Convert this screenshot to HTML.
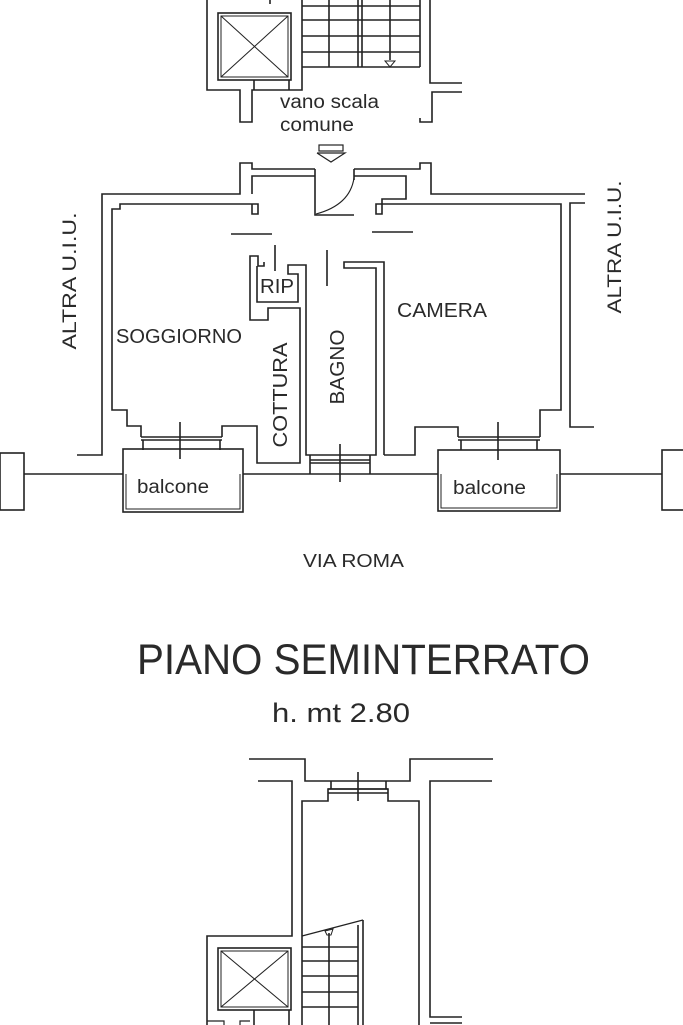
<!DOCTYPE html>
<html><head><meta charset="utf-8"><style>
html,body{margin:0;padding:0;background:#fff;}
svg{display:block;}
text{font-family:"Liberation Sans",Arial,sans-serif;fill:#2a2a2a;}
</style></head><body>
<svg width="683" height="1025" viewBox="0 0 683 1025" xmlns="http://www.w3.org/2000/svg">
<g fill="none" stroke="#222" stroke-width="1.6">
<polyline points="207,0 207,90 240,90 240,122 252,122 252,90 302,90 302,0"/>
<rect x="218" y="13" width="73" height="67"/>
<rect x="221" y="16" width="67" height="61" stroke-width="1"/>
<line x1="221" y1="16" x2="288" y2="77" stroke-width="1"/>
<line x1="288" y1="16" x2="221" y2="77" stroke-width="1"/>
<line x1="254" y1="80" x2="254" y2="90"/><line x1="289" y1="80" x2="289" y2="90"/>
<line x1="302" y1="6" x2="420" y2="6"/>
<line x1="302" y1="20" x2="420" y2="20"/>
<line x1="302" y1="36" x2="420" y2="36"/>
<line x1="302" y1="52" x2="420" y2="52"/>
<line x1="302" y1="67" x2="420" y2="67"/>
<line x1="329" y1="0" x2="329" y2="67"/>
<line x1="358" y1="0" x2="358" y2="67"/>
<line x1="362" y1="0" x2="362" y2="67"/>
<line x1="390" y1="0" x2="390" y2="60"/>
<polygon points="385,61 395,61 390,67" stroke-width="1"/>
<line x1="420" y1="0" x2="420" y2="67"/>
<line x1="270" y1="0" x2="270" y2="4"/>
<polyline points="430,0 430,83 462,83"/>
<polyline points="462,92 432,92 432,122 420,122 420,118"/>
<rect x="319" y="145" width="24" height="6" stroke-width="1.2"/>
<polyline points="317,153 345,153 331,162 317,153" stroke-width="1.2"/>
<polyline points="77,455 102,455 102,194 240,194 240,163 252,163 252,169 315,169"/>
<polyline points="354,169 420,169 420,163 431,163 431,194 585,194"/>
<polyline points="585,203 570,203 570,427 594,427"/>
<polyline points="315,169 315,215 354,215"/>
<line x1="354" y1="169" x2="354" y2="180"/>
<path d="M354,178 Q350,205 316,214" stroke-width="1.1"/>
<polyline points="252,194 252,176 315,176"/>
<polyline points="141,437 141,426 127,426 127,410 112,410 112,209 120,209 120,204 252,204 252,214 258,214 258,204 252,204"/>
<polyline points="354,176 406,176 406,199 382,199 382,214 376,214 376,204 561,204 561,410 540,410 540,437"/>
<line x1="231" y1="234" x2="272" y2="234"/>
<line x1="372" y1="232" x2="413" y2="232"/>
<line x1="141" y1="437" x2="222" y2="437"/><line x1="141" y1="440" x2="222" y2="440"/>
<line x1="143" y1="440" x2="143" y2="450"/><line x1="220" y1="440" x2="220" y2="450"/>
<line x1="180" y1="422" x2="180" y2="459"/>
<polyline points="222,437 222,426 257,426 257,463 300,463 300,308 268,308 268,320 250,320 250,256 258,256 258,266 264,266 264,262"/>
<polyline points="257,266 257,302 298,302 298,274 288,274 288,265 306,265 306,282"/>
<line x1="275" y1="245" x2="275" y2="271"/>
<polyline points="306,282 306,455 376,455 376,268 344,268 344,262 384,262 384,455"/>
<line x1="327" y1="250" x2="327" y2="286"/>
<line x1="310" y1="455" x2="310" y2="474"/><line x1="370" y1="455" x2="370" y2="474"/>
<line x1="310" y1="460" x2="370" y2="460"/><line x1="310" y1="463" x2="370" y2="463"/>
<line x1="340" y1="444" x2="340" y2="482"/>
<polyline points="384,455 415,455 415,427 458,427 458,437"/>
<line x1="458" y1="437" x2="540" y2="437"/><line x1="458" y1="440" x2="540" y2="440"/>
<line x1="461" y1="440" x2="461" y2="450"/><line x1="537" y1="440" x2="537" y2="450"/>
<line x1="498" y1="422" x2="498" y2="460"/>
<line x1="24" y1="474" x2="123" y2="474"/>
<line x1="243" y1="474" x2="438" y2="474"/>
<line x1="560" y1="474" x2="662" y2="474"/>
<rect x="0" y="453" width="24" height="57"/>
<rect x="662" y="450" width="25" height="60"/>
<rect x="123" y="449" width="120" height="63"/>
<polyline points="126,474 126,509 240,509 240,474" stroke-width="1"/>
<rect x="438" y="450" width="122" height="61"/>
<polyline points="441,474 441,508 557,508 557,474" stroke-width="1"/>
<polyline points="249,759 305,759 305,781 410,781 410,759 493,759"/>
<polyline points="258,781 292,781 292,936 207,936 207,1025"/>
<polyline points="302,1025 302,801 328,801 328,789 388,789 388,801 419,801 419,1025"/>
<line x1="328" y1="789" x2="388" y2="789"/><line x1="328" y1="793" x2="388" y2="793"/>
<line x1="331" y1="781" x2="331" y2="789"/><line x1="386" y1="781" x2="386" y2="789"/>
<line x1="358" y1="772" x2="358" y2="801"/>
<polyline points="492,781 430,781 430,1017 462,1017"/>
<line x1="430" y1="1023" x2="462" y2="1023"/>
<rect x="218" y="948" width="73" height="62"/>
<rect x="221" y="951" width="67" height="56" stroke-width="1"/>
<line x1="221" y1="951" x2="288" y2="1007" stroke-width="1"/>
<line x1="288" y1="951" x2="221" y2="1007" stroke-width="1"/>
<line x1="254" y1="1010" x2="254" y2="1025"/><line x1="289" y1="1010" x2="289" y2="1025"/>
<polyline points="224,1025 224,1021 207,1021" stroke-width="1.2"/>
<polyline points="240,1025 240,1021 250,1021" stroke-width="1.2"/>
<line x1="302" y1="936" x2="363" y2="920" stroke-width="1.2"/>
<line x1="363" y1="920" x2="363" y2="1025"/>
<line x1="358" y1="925" x2="358" y2="1025"/>
<line x1="302" y1="947" x2="358" y2="947"/>
<line x1="302" y1="961" x2="358" y2="961"/>
<line x1="302" y1="976" x2="358" y2="976"/>
<line x1="302" y1="992" x2="358" y2="992"/>
<line x1="302" y1="1007" x2="358" y2="1007"/>
<line x1="329" y1="933" x2="329" y2="1025"/>
<polygon points="325,931 333,929 331,935 327,935" stroke-width="1"/>
</g>
<text x="280" y="108" font-size="19" textLength="99" lengthAdjust="spacingAndGlyphs">vano scala</text>
<text x="280" y="131" font-size="19" textLength="74" lengthAdjust="spacingAndGlyphs">comune</text>
<text transform="translate(76,281) rotate(-90)" font-size="19" text-anchor="middle" textLength="137" lengthAdjust="spacingAndGlyphs">ALTRA U.I.U.</text>
<text transform="translate(621,247) rotate(-90)" font-size="19" text-anchor="middle" textLength="133" lengthAdjust="spacingAndGlyphs">ALTRA U.I.U.</text>
<text x="116" y="343" font-size="20" textLength="126" lengthAdjust="spacingAndGlyphs">SOGGIORNO</text>
<text x="260" y="293" font-size="20" textLength="34" lengthAdjust="spacingAndGlyphs">RIP</text>
<text x="397" y="317" font-size="20" textLength="90" lengthAdjust="spacingAndGlyphs">CAMERA</text>
<text transform="translate(287,395) rotate(-90)" font-size="20" text-anchor="middle" textLength="105" lengthAdjust="spacingAndGlyphs">COTTURA</text>
<text transform="translate(344,367) rotate(-90)" font-size="20" text-anchor="middle" textLength="75" lengthAdjust="spacingAndGlyphs">BAGNO</text>
<text x="137" y="493" font-size="19" textLength="72" lengthAdjust="spacingAndGlyphs">balcone</text>
<text x="453" y="494" font-size="19" textLength="73" lengthAdjust="spacingAndGlyphs">balcone</text>
<text x="303" y="567" font-size="18" textLength="101" lengthAdjust="spacingAndGlyphs">VIA ROMA</text>
<text x="137" y="674" font-size="43" textLength="453" lengthAdjust="spacingAndGlyphs">PIANO SEMINTERRATO</text>
<text x="272" y="722" font-size="27" textLength="138" lengthAdjust="spacingAndGlyphs">h. mt 2.80</text>
</svg>
</body></html>
